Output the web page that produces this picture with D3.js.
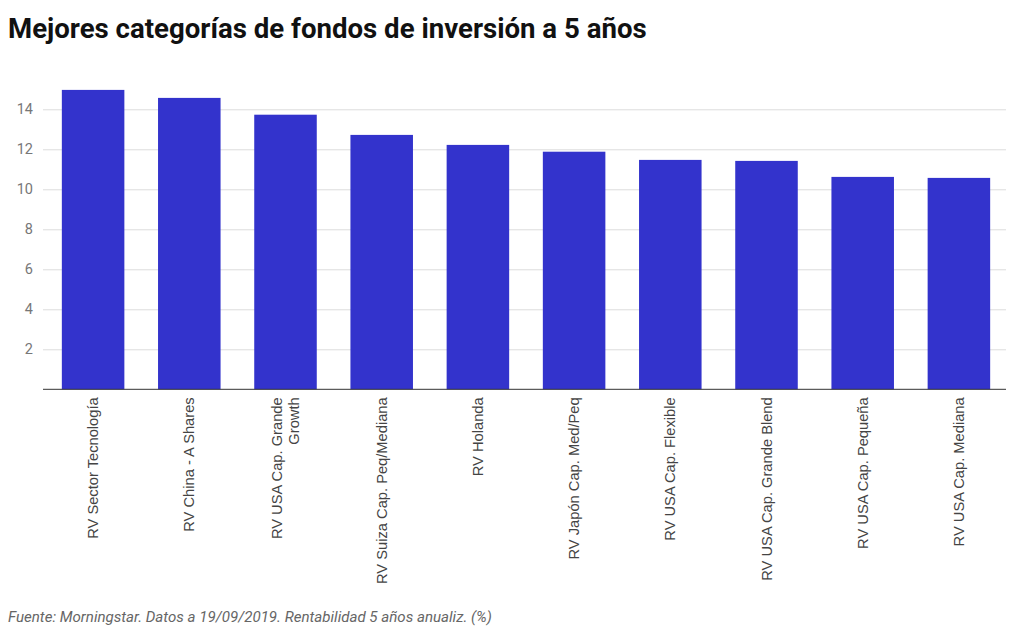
<html>
<head>
	<meta charset="utf-8">
	<script src="https://d3js.org/d3.v7.min.js"></script>
	<style>
		body { margin: 0; background: #fff; }
	</style>
</head>
<body>
	<div id="output"></div>
	<script>
		// data
		var categories = [
			["RV Sector Tecnología"],
			["RV China - A Shares"],
			["RV USA Cap. Grande", "Growth"],
			["RV Suiza Cap. Peq/Mediana"],
			["RV Holanda"],
			["RV Japón Cap. Med/Peq"],
			["RV USA Cap. Flexible"],
			["RV USA Cap. Grande Blend"],
			["RV USA Cap. Pequeña"],
			["RV USA Cap. Mediana"]
		];
		var values = [14.97, 14.57, 13.73, 12.72, 12.22, 11.88, 11.47, 11.42, 10.62, 10.57];
		var yTicks = [2, 4, 6, 8, 10, 12, 14];

		var width = 1015, height = 630;
		var plotLeft = 45, plotRight = 1007, plotTop = 80, plotBottom = 389.3;

		var svg = d3.select("#output")
			.append("svg")
			.attr("width", width)
			.attr("height", height);

		var x = d3.scaleBand()
			.domain(d3.range(categories.length))
			.range([plotLeft, plotRight])
			.paddingInner(0.35)
			.paddingOuter(0.175);

		var y = d3.scaleLinear()
			.domain([0, 15.465])
			.range([plotBottom, plotTop]);

		// title
		svg.append("text")
			.attr("x", 8)
			.attr("y", 38)
			.style("font-family", "Roboto, sans-serif")
			.style("font-size", "27.6px")
			.style("font-weight", 700)
			.style("fill", "#111")
			.text("Mejores categorías de fondos de inversión a 5 años");

		// gridlines + y labels
		var yAxis = svg.append("g")
			.attr("transform", "translate(" + (plotLeft - 2) + ",0)")
			.call(d3.axisLeft(y).tickValues(yTicks).tickSize(-(plotRight - plotLeft + 1)).tickPadding(10));
		yAxis.select(".domain").remove();
		yAxis.selectAll(".tick line").attr("stroke", "#dcdcdc");
		yAxis.selectAll(".tick text")
			.style("font-family", "Roboto, sans-serif")
			.style("font-size", "14.5px")
			.style("fill", "#777");

		// bars
		svg.selectAll(".bar")
			.data(values)
			.enter().append("rect")
			.attr("class", "bar")
			.attr("x", function(d, i) { return x(i); })
			.attr("y", function(d) { return y(d); })
			.attr("width", x.bandwidth())
			.attr("height", function(d) { return y(0) - y(d); })
			.attr("fill", "#3333cc");

		// baseline
		svg.append("line")
			.attr("x1", plotLeft - 2)
			.attr("x2", plotRight - 1)
			.attr("y1", y(0))
			.attr("y2", y(0))
			.attr("stroke", "#333")
			.attr("stroke-width", 1);

		// x labels, rotated
		var labels = svg.selectAll(".xlab")
			.data(categories)
			.enter().append("text")
			.attr("class", "xlab")
			.attr("transform", function(d, i) {
				return "translate(" + (x(i) + x.bandwidth() / 2) + "," + (y(0) + 8) + ") rotate(-90)";
			})
			.style("font-family", "'Liberation Sans', Arial, sans-serif")
			.style("font-size", "14.7px")
			.style("fill", "#444")
			.style("text-anchor", "end");
		labels.each(function(d) {
			var t = d3.select(this);
			var n = d.length;
			d.forEach(function(line, k) {
				t.append("tspan")
					.attr("x", 0)
					.attr("y", 0)
					.attr("dy", (0.35 + (k - (n - 1) / 2) * 1.15) + "em")
					.text(line);
			});
		});

		// footer
		svg.append("text")
			.attr("x", 8)
			.attr("y", 622)
			.style("font-family", "Roboto, sans-serif")
			.style("font-size", "15.1px")
			.style("font-style", "italic")
			.style("fill", "#666")
			.text("Fuente: Morningstar. Datos a 19/09/2019. Rentabilidad 5 años anualiz. (%)");
	</script>
</body>
</html>
